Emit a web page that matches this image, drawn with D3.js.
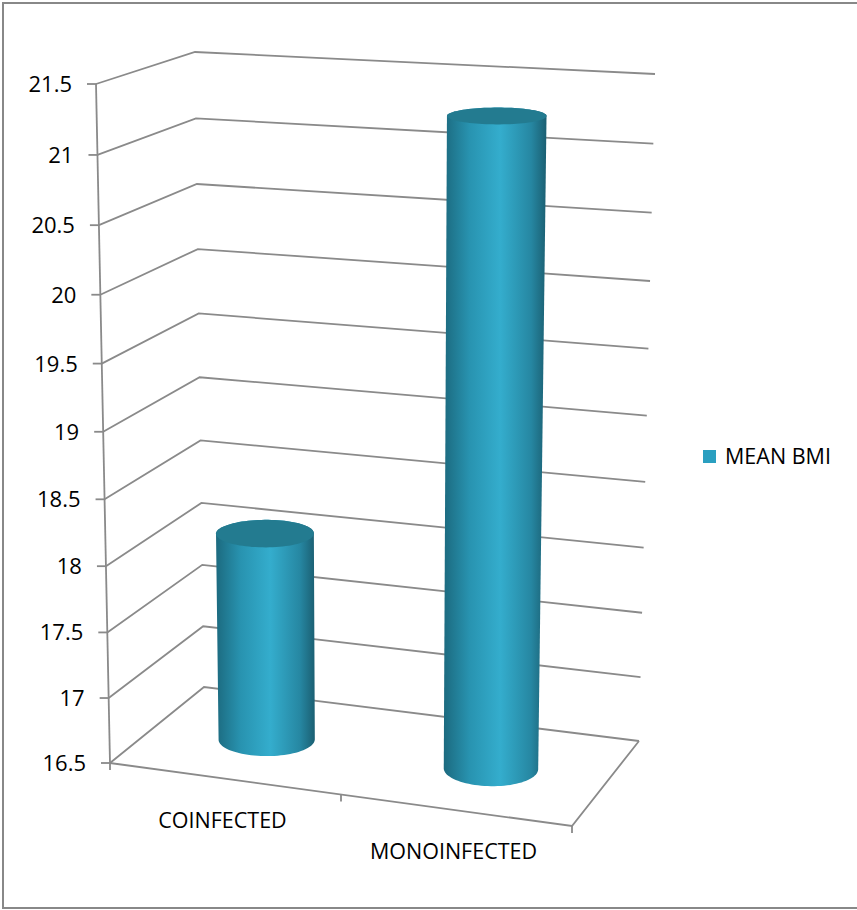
<!DOCTYPE html>
<html>
<head>
<meta charset="utf-8">
<script src="https://cdn.jsdelivr.net/npm/d3@7"></script>
<style>
  body { margin: 0; background: #fff; }
  text { font-family: "Open Sans", "Noto Sans", sans-serif; fill: #000; }
</style>
</head>
<body>
<div id="chart"></div>
<script>
const categories = ["COINFECTED", "MONOINFECTED"];
const meanBmi = [18.1, 21.3];
const tickValues = [16.5, 17, 17.5, 18, 18.5, 19, 19.5, 20, 20.5, 21, 21.5];
const tickLabels = ["16.5", "17", "17.5", "18", "18.5", "19", "19.5", "20", "20.5", "21", "21.5"];
const seriesName = "MEAN BMI";

const width = 857, height = 910;
const svg = d3.select("#chart").append("svg")
    .attr("width", width)
    .attr("height", height);

// corners of the 3d plot box on screen (front/back, left/right, top/bottom)
const box = {
    FLT: [96, 84],  FLB: [110, 763],
    FRT: [580, 114], FRB: [572, 826],
    BLT: [195, 52], BLB: [204, 687],
    BRT: [655, 74], BRB: [639, 741]
};
const persp = 1.05; // top of box a little closer to the eye

const yScale = d3.scaleLinear().domain([16.5, 21.5]).range([1, 0]);
const xScale = d3.scaleBand().domain(categories).range([0, 1]);

const lerp = (a, b, t) => [a[0] + (b[0] - a[0]) * t, a[1] + (b[1] - a[1]) * t];

// u: 0..1 across categories, v: value, z: 0 front .. 1 back
function proj(u, v, z) {
    const t = yScale(v);
    const s = persp * t / (1 + (persp - 1) * t);
    const fl = lerp(box.FLT, box.FLB, s), fr = lerp(box.FRT, box.FRB, s);
    const bl = lerp(box.BLT, box.BLB, s), br = lerp(box.BRT, box.BRB, s);
    const f = lerp(fl, fr, u), b = lerp(bl, br, u);
    return lerp(f, b, z);
}

// outer frame
svg.append("rect")
    .attr("x", 3).attr("y", 3)
    .attr("width", 862).attr("height", 905)
    .attr("fill", "none").attr("stroke", "#888").attr("stroke-width", 2);

const gridColor = "#8a8a8a";
const gridW = 1.8;
const line = d3.line();

// gridlines: front-left -> back-left -> back-right
svg.append("g").selectAll("path")
    .data(tickValues)
    .join("path")
    .attr("d", v => line([proj(0, v, 0), proj(0, v, 1), proj(1, v, 1)]))
    .attr("fill", "none")
    .attr("stroke", gridColor)
    .attr("stroke-width", gridW);

// value axis + ticks
const yMin = d3.min(tickValues), yMax = d3.max(tickValues);
svg.append("path")
    .attr("d", line([proj(0, yMin, 0), proj(0, yMax, 0)]))
    .attr("stroke", gridColor).attr("stroke-width", gridW);

svg.append("g").selectAll("path")
    .data(tickValues)
    .join("path")
    .attr("d", v => { const p = proj(0, v, 0); return line([[p[0] - 9, p[1]], p]); })
    .attr("stroke", gridColor).attr("stroke-width", gridW);

svg.append("g").selectAll("text")
    .data(tickValues)
    .join("text")
    .attr("x", v => proj(0, v, 0)[0] - 24)
    .attr("y", v => proj(0, v, 0)[1])
    .attr("dy", "0.36em")
    .attr("text-anchor", "end")
    .style("font-size", "22px")
    .text((v, i) => tickLabels[i]);

// floor front + right edges
svg.append("path")
    .attr("d", line([proj(0, yMin, 0), proj(1, yMin, 0), proj(1, yMin, 1)]))
    .attr("fill", "none").attr("stroke", gridColor).attr("stroke-width", gridW);

// category ticks along the front edge
svg.append("g").selectAll("path")
    .data([0, 0.5, 1])
    .join("path")
    .attr("d", u => { const p = proj(u, yMin, 0); return line([p, [p[0], p[1] + 7]]); })
    .attr("stroke", gridColor).attr("stroke-width", gridW);

// cylinder gradient
const defs = svg.append("defs");
const grad = defs.append("linearGradient").attr("id", "cyl").attr("x1", 0).attr("x2", 1).attr("y1", 0).attr("y2", 0);
grad.append("stop").attr("offset", "0%").attr("stop-color", "#1c6a7f");
grad.append("stop").attr("offset", "25%").attr("stop-color", "#2893b0");
grad.append("stop").attr("offset", "55%").attr("stop-color", "#34adcd");
grad.append("stop").attr("offset", "85%").attr("stop-color", "#2687a2");
grad.append("stop").attr("offset", "100%").attr("stop-color", "#1b5f72");

const ru = xScale.bandwidth() * 0.2, rz = 0.2;
const angles = d3.range(0, 360, 4).map(a => a * Math.PI / 180);

function ring(uc, v) {
    return angles.map(a => proj(uc + ru * Math.cos(a), v, 0.5 + rz * Math.sin(a)));
}

const bars = svg.append("g").selectAll("g")
    .data(categories.map((c, i) => ({ cat: c, value: meanBmi[i] })))
    .join("g");

bars.append("path")
    .attr("d", d => {
        const uc = xScale(d.cat) + xScale.bandwidth() / 2 - 0.005;
        const hull = d3.polygonHull(ring(uc, yMin).concat(ring(uc, d.value)));
        return line(hull) + "Z";
    })
    .attr("fill", "url(#cyl)");

bars.append("path")
    .attr("d", d => {
        const uc = xScale(d.cat) + xScale.bandwidth() / 2 - 0.005;
        return line(ring(uc, d.value)) + "Z";
    })
    .attr("fill", "#237b90");

// category labels
svg.append("g").selectAll("text")
    .data(categories)
    .join("text")
    .attr("x", c => proj(xScale(c) + xScale.bandwidth() / 2, yMin, 0)[0] - 3)
    .attr("y", c => proj(xScale(c) + xScale.bandwidth() / 2, yMin, 0)[1] + 49)
    .attr("text-anchor", "middle")
    .style("font-size", "21.5px")
    .text(c => c);

// legend
const legend = svg.append("g").attr("transform", "translate(703,450)");
legend.append("rect").attr("width", 13).attr("height", 13).attr("fill", "#2a9fc0");
legend.append("text").attr("x", 22).attr("y", 14).style("font-size", "21.5px").text(seriesName);
</script>
</body>
</html>
